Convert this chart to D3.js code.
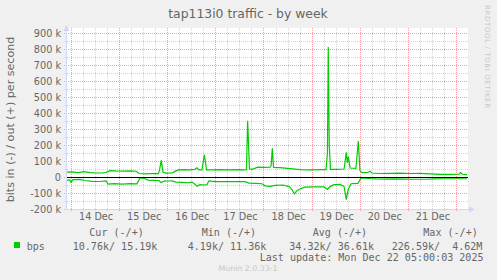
<!DOCTYPE html>
<html><head><meta charset="utf-8">
<script src="https://cdn.jsdelivr.net/npm/d3@7/dist/d3.min.js"></script>
<style>html,body{margin:0;padding:0;background:#f0f0f0;}svg{display:block}</style>
</head><body><svg id="c" width="497" height="280"></svg>
<script>
// ---------- data ----------
const chartTitle = "tap113i0 traffic - by week";
const yAxisTitle = "bits in (-) / out (+) per second";
const dayLabels = ["14 Dec","15 Dec","16 Dec","17 Dec","18 Dec","19 Dec","20 Dec","21 Dec"];
const yTickValues = [-200,-100,0,100,200,300,400,500,600,700,800,900];
const yTickLabels = ["-200 k","-100 k","0","100 k","200 k","300 k","400 k","500 k","600 k","700 k","800 k","900 k"];
// hours since 14 Dec 00:00, values in kbit/s
const outHours = [-2.5,0,3,6,9,12,15,17,19,22,26,29,32,33.5,37,40,43,43.6,44.5,45.4,46.9,49.9,51.4,52.9,55.9,58.9,61.3,62.3,63.3,64.8,66,67.1,69.8,73.8,77.8,81.8,85.8,87,87.6,88.5,89.8,92.8,95.8,98.8,99.3,99.9,100.5,103.7,108.7,113.7,118.7,123.7,126.7,127.4,127.8,128.3,128.9,132.7,135.7,136.8,137.3,137.8,138.7,141.6,142.8,143.6,144.6,147.6,148.6,149.6,153.6,158.6,163.6,168.6,173.6,178.6,183.5,188.5,193,193.9,194.8,197];
const outKbps  = [30,32,28,34,27,25,26,28,40,38,37,38,36,22,20,22,21,40,104,30,24,25,35,44,46,44,48,58,45,45,138,45,44,46,44,46,45,46,352,50,48,62,60,62,70,180,60,58,52,46,44,46,46,150,812,200,48,48,50,154,90,127,56,54,225,40,27,28,36,25,22,23,24,22,23,20,17,17,18,28,17,15];
const inHours = [-2.5,-1,-0.5,0.5,4,6.5,10,14,17,18,21,25,28.9,32.4,33.9,35.9,37.9,40.9,43.4,44.4,45.9,47.9,49.9,51.9,54.9,57.9,59.9,61.3,62.3,63.8,65.8,67.3,68.3,71.3,76.3,81.3,86.3,88.3,91.8,94.8,96.3,98.8,101.3,105.3,108.3,109.8,110.9,112.2,113.7,116.2,121.2,125.7,127.4,128.7,130.7,133.7,135.7,136.8,137.7,139.2,142.6,144.1,146.1,148.6,151.6,156.1,161.1,166.1,171.1,176.1,181.1,186,191,197];
const inKbps  = [19,20,33,16,15,22,27,28,25,45,42,44,42,43,5,8,19,21,22,35,26,25,24,32,34,36,32,45,58,48,50,48,24,29,29,29,29,38,40,42,55,58,52,50,60,80,106,85,75,63,62,62,78,60,48,46,60,142,80,42,40,8,6,10,12,13,12,13,14,14,12,11,11,11];
const legendName = "bps";
const legendHeaders = ["Cur (-/+)","Min (-/+)","Avg (-/+)","Max (-/+)"];
const legendValues = ["10.76k/ 15.19k","4.19k/ 11.36k","34.32k/ 36.61k","226.59k/  4.62M"];
const lastUpdate = "Last update: Mon Dec 22 05:00:03 2025";
const footer = "Munin 2.0.33-1";
const watermark = "RRDTOOL / TOBI OETIKER";

// ---------- drawing ----------
const svg = d3.select("#c");
const W = 497, H = 280;
const sans = "'DejaVu Sans', sans-serif", mono = "'DejaVu Sans Mono', monospace";
const fontCol = "#666666", axisCol = "#CFD6F8", lineCol = "#00CC00";
const L = 67, R = 468, T = 28, B = 209;

svg.append("rect").attr("width", W).attr("height", H).attr("fill", "#f0f0f0");
svg.append("rect").attr("x", L).attr("y", T).attr("width", R - L).attr("height", B - T).attr("fill", "#ffffff");

const x = d3.scaleLinear().domain([-2.5, 197.5]).range([L, R]);
const y = d3.scaleLinear().domain([-200, 931.25]).range([B, T]);

const g = svg.append("g").attr("shape-rendering", "crispEdges");
// horizontal grid
const hMinor = d3.range(-150, 900, 100);
g.selectAll(".hmin").data(hMinor).join("line")
  .attr("x1", L - 2).attr("x2", R).attr("y1", d => Math.round(y(d)) + 0.5).attr("y2", d => Math.round(y(d)) + 0.5)
  .attr("stroke", "#d2d2d2").attr("stroke-dasharray", "1,1");
g.selectAll(".hmaj").data(yTickValues).join("line")
  .attr("x1", L - 3).attr("x2", R).attr("y1", d => Math.round(y(d)) + 0.5).attr("y2", d => Math.round(y(d)) + 0.5)
  .attr("stroke", "#f2a0a0").attr("stroke-dasharray", "1,1");
// vertical grid
const vMinor = d3.range(0, 197, 6).filter(h => h % 24 !== 0);
const vMajor = d3.range(0, 197, 24);
g.selectAll(".vmin").data(vMinor).join("line")
  .attr("x1", d => Math.round(x(d)) - 0.5).attr("x2", d => Math.round(x(d)) - 0.5).attr("y1", T).attr("y2", B + 2)
  .attr("stroke", "#d2d2d2").attr("stroke-dasharray", "1,1");
g.selectAll(".vmaj").data(vMajor).join("line")
  .attr("x1", d => Math.round(x(d)) - 0.5).attr("x2", d => Math.round(x(d)) - 0.5).attr("y1", T).attr("y2", B + 3)
  .attr("stroke", "#f2a0a0").attr("stroke-dasharray", "1,1");

// axes
g.append("line").attr("x1", L - 0.5).attr("x2", L - 0.5).attr("y1", B + 1).attr("y2", T).attr("stroke", axisCol);
g.append("line").attr("x1", L - 3).attr("x2", R + 2).attr("y1", B + 0.5).attr("y2", B + 0.5).attr("stroke", axisCol);
svg.append("path").attr("d", `M${L - 3.5},${T + 3} L${L - 0.5},${T - 3} L${L + 2.5},${T + 3} Z`).attr("fill", axisCol);
svg.append("path").attr("d", `M${R + 1},${B - 2.5} L${R + 7},${B + 0.5} L${R + 1},${B + 3.5} Z`).attr("fill", axisCol);

// data lines
const line = d3.line().x(d => x(d[0])).y(d => y(d[1]));
const outPts = outHours.map((h, i) => [h, outKbps[i]]);
const inPts = inHours.map((h, i) => [h, -inKbps[i]]);
svg.append("path").attr("d", line(inPts)).attr("fill", "none").attr("stroke", lineCol).attr("stroke-width", 1.2);
svg.append("path").attr("d", line(outPts)).attr("fill", "none").attr("stroke", lineCol).attr("stroke-width", 1.2);
// zero rule
svg.append("line").attr("x1", L).attr("x2", R).attr("y1", y(0) + 0.5).attr("y2", y(0) + 0.5)
  .attr("stroke", "#000").attr("shape-rendering", "crispEdges");

// y tick labels
svg.selectAll(".yl").data(yTickValues).join("text")
  .attr("x", 61).attr("y", d => y(d) + 4).attr("text-anchor", "end")
  .attr("font-family", sans).attr("font-size", 9.7).attr("fill", fontCol)
  .text((d, i) => yTickLabels[i]);
// x labels at noon
svg.selectAll(".xl").data(dayLabels).join("text")
  .attr("x", (d, i) => x(i * 24 + 12)).attr("y", 219.5).attr("text-anchor", "middle")
  .attr("font-family", sans).attr("font-size", 9.7).attr("fill", fontCol)
  .text(d => d);

// title
svg.append("text").attr("x", 248).attr("y", 17.5).attr("text-anchor", "middle")
  .attr("font-family", sans).attr("font-size", 12.4).attr("fill", fontCol).text(chartTitle);
// y axis title
svg.append("text").attr("transform", `translate(14,${(T + B) / 2 + 1}) rotate(-90)`).attr("text-anchor", "middle")
  .attr("font-family", sans).attr("font-size", 11.1).attr("fill", fontCol).text(yAxisTitle);
// watermark
svg.append("text").attr("transform", "translate(485,5) rotate(90)").attr("text-anchor", "start")
  .attr("font-family", sans).attr("font-size", 7).attr("fill", "#c8c8c8").attr("textLength", 103).text(watermark);

// legend
svg.append("rect").attr("x", 14).attr("y", 242).attr("width", 6).attr("height", 6).attr("fill", lineCol);
const legFont = 10.05;
svg.append("text").attr("x", 26.7).attr("y", 249.5).attr("font-family", mono).attr("font-size", legFont).attr("fill", fontCol).text(legendName);
const headX = [89.3, 201.7, 312.7, 423.3];
const valX = [72.7, 187.7, 289.3, 391.7];
svg.selectAll(".lh").data(legendHeaders).join("text")
  .attr("x", (d, i) => headX[i]).attr("y", 236).attr("font-family", mono).attr("font-size", legFont)
  .attr("fill", fontCol).attr("xml:space", "preserve").style("white-space", "pre").text(d => d);
svg.selectAll(".lv").data(legendValues).join("text")
  .attr("x", (d, i) => valX[i]).attr("y", 249.5).attr("font-family", mono).attr("font-size", legFont)
  .attr("fill", fontCol).style("white-space", "pre").text(d => d);
svg.append("text").attr("x", 483.5).attr("y", 261).attr("text-anchor", "end").attr("font-family", mono)
  .attr("font-size", legFont).attr("fill", fontCol).style("white-space", "pre").text(lastUpdate);
svg.append("text").attr("x", 248).attr("y", 271).attr("text-anchor", "middle").attr("font-family", sans)
  .attr("font-size", 7.8).attr("fill", "#c8c8c8").text(footer);
</script></body></html>
